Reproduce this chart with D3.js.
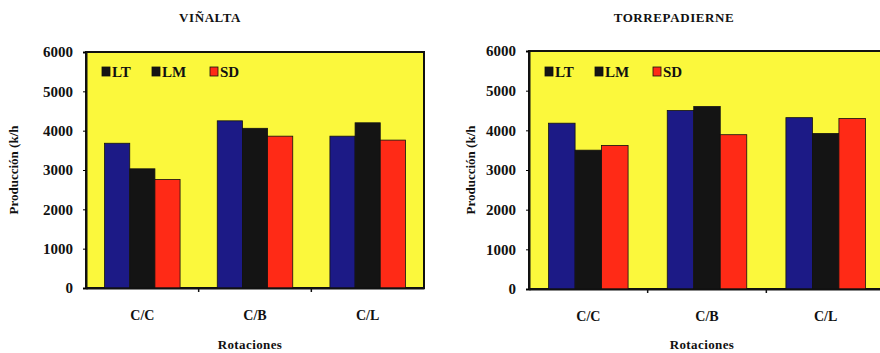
<!DOCTYPE html>
<html><head><meta charset="utf-8">
<script src="https://cdn.jsdelivr.net/npm/d3@7"></script>
<style>
body{margin:0;background:#fff;}
svg text{font-family:"Liberation Serif","Times New Roman","DejaVu Serif",serif !important;font-weight:bold;fill:#111;}
</style></head>
<body><svg id="c" width="880" height="353"></svg>
<script>
const categories = ["C/C", "C/B", "C/L"];
const seriesNames = ["LT", "LM", "SD"];
const yTicks = [0, 1000, 2000, 3000, 4000, 5000, 6000];
const vinaltaLT = [3680, 4250, 3860];
const vinaltaLM = [3030, 4060, 4200];
const vinaltaSD = [2760, 3860, 3760];
const torreLT = [4180, 4500, 4320];
const torreLM = [3500, 4600, 3920];
const torreSD = [3620, 3890, 4300];
const colors = ["#1c1a86", "#141414", "#ff2a16"];
const legendSwatch = ["#141414", "#141414", "#ff2a16"];
const FONT = "'Liberation Serif', 'Times New Roman', serif";

const svg = d3.select("#c");

function chart(title, values, x0, x1, y0, y1, labelX, titleX) {
  const g = svg.append("g").attr("font-family", FONT);
  const x = d3.scaleBand().domain(categories).range([x0, x1]).paddingInner(0.33).paddingOuter(0.165);
  const xs = d3.scaleBand().domain(seriesNames).range([0, x.bandwidth()]);
  const y = d3.scaleLinear().domain([0, 6000]).range([y1, y0]);
  g.append("rect").attr("x", x0).attr("y", y0).attr("width", x1 - x0).attr("height", y1 - y0)
    .attr("fill", "#fbf83c").attr("stroke", "#111").attr("stroke-width", 2);
  seriesNames.forEach((s, si) => {
    g.selectAll(null).data(values[si]).enter().append("rect")
      .attr("x", (d, i) => x(categories[i]) + xs(s))
      .attr("y", d => y(d))
      .attr("width", xs.bandwidth())
      .attr("height", d => y(0) - y(d))
      .attr("fill", colors[si]).attr("stroke", "#111").attr("stroke-width", 0.8);
  });
  const ya = d3.axisLeft(y).tickValues(yTicks).tickSize(3).tickPadding(10).tickFormat(d3.format("d"));
  const yg = g.append("g").attr("transform", `translate(${x0},0)`).call(ya).attr("font-family", FONT);
  yg.select(".domain").attr("stroke", "#111").attr("stroke-width", 2);
  yg.selectAll("text").style("font-size", "15px").style("font-family", FONT);
  const xa = d3.axisBottom(x).tickSize(0).tickPadding(22);
  const xg = g.append("g").attr("transform", `translate(0,${y1})`).call(xa).attr("font-family", FONT);
  xg.select(".domain").attr("stroke", "#111").attr("stroke-width", 2);
  xg.selectAll("text").style("font-size", "14px").style("font-family", FONT);
  g.selectAll(null).data(categories.slice(1)).enter().append("line")
    .attr("x1", d => x(d) - x.step() * x.paddingInner() / 2)
    .attr("x2", d => x(d) - x.step() * x.paddingInner() / 2)
    .attr("y1", y1).attr("y2", y1 + 4).attr("stroke", "#111").attr("stroke-width", 1.5);
  const lx = [16, 66, 124];
  seriesNames.forEach((s, i) => {
    g.append("rect").attr("x", x0 + lx[i]).attr("y", 67).attr("width", 8).attr("height", 9)
      .attr("fill", legendSwatch[i]).attr("stroke", "#111").attr("stroke-width", 0.8);
    g.append("text").attr("x", x0 + lx[i] + 10).attr("y", 77).text(s)
      .style("font-size", "15px").style("font-family", FONT);
  });
  g.append("text").attr("x", titleX).attr("y", 22).attr("text-anchor", "middle")
    .style("font-size", "13px").style("font-family", FONT).attr("letter-spacing", "0.6px").text(title);
  g.append("text").attr("transform", `translate(${labelX},${(y0 + y1) / 2}) rotate(-90)`)
    .attr("text-anchor", "middle").style("font-size", "13px").style("font-family", FONT).text("Producción (k/h");
  g.append("text").attr("x", (x0 + x1) / 2 - 5).attr("y", 349).attr("text-anchor", "middle")
    .style("font-size", "13px").style("font-family", FONT).attr("letter-spacing", "0.4px").text("Rotaciones");
}

chart("VIÑALTA", [vinaltaLT, vinaltaLM, vinaltaSD], 86, 424, 52, 288, 18, 210);
chart("TORREPADIERNE", [torreLT, torreLM, torreSD], 529, 885, 51, 289, 475, 674);
</script></body></html>
